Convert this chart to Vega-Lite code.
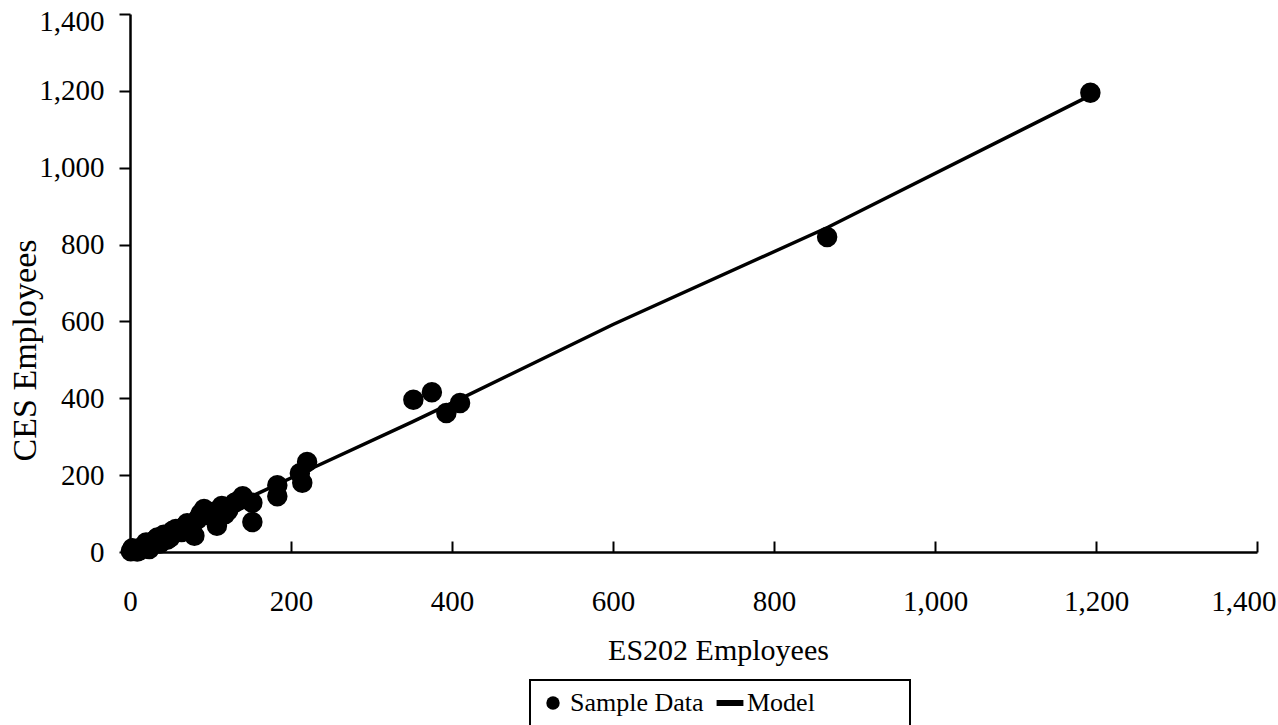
{
  "$schema": "https://vega.github.io/schema/vega-lite/v6.json",
  "autosize": {"type": "none"},
  "padding": {"left": 130, "top": 14, "right": 21, "bottom": 173},
  "width": 1127,
  "height": 538,
  "background": "white",
  "config": {
    "view": {"stroke": null},
    "font": "Liberation Serif",
    "legend": {"strokeWidth": 2},
    "axis": {
      "grid": false,
      "domainColor": "black",
      "domainWidth": 2.5,
      "tickColor": "black",
      "tickWidth": 2,
      "labelFont": "Liberation Serif",
      "labelFontSize": 29,
      "labelColor": "black",
      "labelFlush": false,
      "labelOverlap": false,
      "titleFont": "Liberation Serif",
      "titleFontWeight": "normal",
      "titleColor": "black"
    }
  },
  "datasets": {
    "samples": [
      {"es202": 1, "ces": 2, "series": "Sample Data"},
      {"es202": 3, "ces": 10, "series": "Sample Data"},
      {"es202": 5, "ces": 6, "series": "Sample Data"},
      {"es202": 9, "ces": 1, "series": "Sample Data"},
      {"es202": 12, "ces": 4, "series": "Sample Data"},
      {"es202": 14, "ces": 12, "series": "Sample Data"},
      {"es202": 18, "ces": 16, "series": "Sample Data"},
      {"es202": 20, "ces": 25, "series": "Sample Data"},
      {"es202": 24, "ces": 8, "series": "Sample Data"},
      {"es202": 27, "ces": 20, "series": "Sample Data"},
      {"es202": 30, "ces": 30, "series": "Sample Data"},
      {"es202": 34, "ces": 38, "series": "Sample Data"},
      {"es202": 37, "ces": 22, "series": "Sample Data"},
      {"es202": 42, "ces": 45, "series": "Sample Data"},
      {"es202": 46, "ces": 32, "series": "Sample Data"},
      {"es202": 50, "ces": 38, "series": "Sample Data"},
      {"es202": 53, "ces": 55, "series": "Sample Data"},
      {"es202": 57, "ces": 60, "series": "Sample Data"},
      {"es202": 64, "ces": 52, "series": "Sample Data"},
      {"es202": 67, "ces": 66, "series": "Sample Data"},
      {"es202": 71, "ces": 75, "series": "Sample Data"},
      {"es202": 76, "ces": 60, "series": "Sample Data"},
      {"es202": 80, "ces": 42, "series": "Sample Data"},
      {"es202": 84, "ces": 85, "series": "Sample Data"},
      {"es202": 88, "ces": 100, "series": "Sample Data"},
      {"es202": 92, "ces": 112, "series": "Sample Data"},
      {"es202": 98, "ces": 96, "series": "Sample Data"},
      {"es202": 103, "ces": 104, "series": "Sample Data"},
      {"es202": 108, "ces": 68, "series": "Sample Data"},
      {"es202": 114, "ces": 120, "series": "Sample Data"},
      {"es202": 118, "ces": 98, "series": "Sample Data"},
      {"es202": 122, "ces": 108, "series": "Sample Data"},
      {"es202": 130, "ces": 128, "series": "Sample Data"},
      {"es202": 135, "ces": 134, "series": "Sample Data"},
      {"es202": 140, "ces": 145, "series": "Sample Data"},
      {"es202": 152, "ces": 128, "series": "Sample Data"},
      {"es202": 152, "ces": 78, "series": "Sample Data"},
      {"es202": 183, "ces": 174, "series": "Sample Data"},
      {"es202": 183, "ces": 145, "series": "Sample Data"},
      {"es202": 211, "ces": 205, "series": "Sample Data"},
      {"es202": 214, "ces": 180, "series": "Sample Data"},
      {"es202": 220, "ces": 234, "series": "Sample Data"},
      {"es202": 352, "ces": 396, "series": "Sample Data"},
      {"es202": 375, "ces": 416, "series": "Sample Data"},
      {"es202": 393, "ces": 362, "series": "Sample Data"},
      {"es202": 410, "ces": 388, "series": "Sample Data"},
      {"es202": 866, "ces": 820, "series": "Sample Data"},
      {"es202": 1193, "ces": 1195, "series": "Sample Data"}
    ],
    "model": [
      {"es202": 0, "ces": 0},
      {"es202": 100, "ces": 95},
      {"es202": 220, "ces": 212},
      {"es202": 350, "ces": 338},
      {"es202": 400, "ces": 388},
      {"es202": 600, "ces": 592},
      {"es202": 867, "ces": 845},
      {"es202": 1190, "ces": 1185}
    ]
  },
  "encoding": {
    "x": {
      "field": "es202",
      "type": "quantitative",
      "scale": {"domain": [0, 1400], "nice": false},
      "axis": {
        "title": "ES202 Employees",
        "values": [0, 200, 400, 600, 800, 1000, 1200, 1400],
        "format": ",d",
        "tickSize": -11,
        "labelPadding": 46,
        "labelBaseline": "top",
        "labelAlign": {"condition": {"test": "datum.value == 1400", "value": "right"}, "value": "center"},
        "labelOffset": {"condition": {"test": "datum.value == 1400", "value": 19}, "value": 0},
        "titleFontSize": 30,
        "titleX": 588,
        "titleY": 98,
        "titleAlign": "center",
        "titleBaseline": "middle"
      }
    },
    "y": {
      "field": "ces",
      "type": "quantitative",
      "scale": {"domain": [0, 1400], "nice": false},
      "axis": {
        "title": "CES Employees",
        "values": [0, 200, 400, 600, 800, 1000, 1200, 1400],
        "format": ",d",
        "tickSize": 11,
        "labelPadding": 15,
        "labelBaseline": "middle",
        "labelOffset": {"condition": {"test": "datum.value == 1400", "value": 7}, "value": 0},
        "titleFontSize": 34,
        "titleAngle": -90,
        "titleX": -105,
        "titleY": 336,
        "titleAlign": "center",
        "titleBaseline": "middle"
      }
    }
  },
  "layer": [
    {
      "data": {"name": "model"},
      "mark": {"type": "line", "color": "black", "strokeWidth": 3.5},
      "encoding": {}
    },
    {
      "data": {"name": "samples"},
      "mark": {"type": "point", "filled": true, "color": "black", "opacity": 1, "size": 420},
      "encoding": {
        "shape": {
          "field": "series",
          "type": "nominal",
          "scale": {
            "domain": ["Sample Data", "Model"],
            "range": ["circle", "M-2,-0.45H2V0.45H-2Z"]
          },
          "legend": {
            "title": " ",
            "titleOrient": "right",
            "titlePadding": 85,
            "orient": "none",
            "legendX": 400,
            "legendY": 666,
            "direction": "horizontal",
            "columns": 2,
            "strokeColor": "black",
            "padding": 10,
            "labelFont": "Liberation Serif",
            "labelFontSize": 26,
            "labelColor": "black",
            "symbolSize": 180,
            "symbolFillColor": "black",
            "symbolStrokeColor": "black",
            "symbolStrokeWidth": 0,
            "labelOffset": 4,
            "columnPadding": 12
          }
        }
      }
    }
  ]
}
